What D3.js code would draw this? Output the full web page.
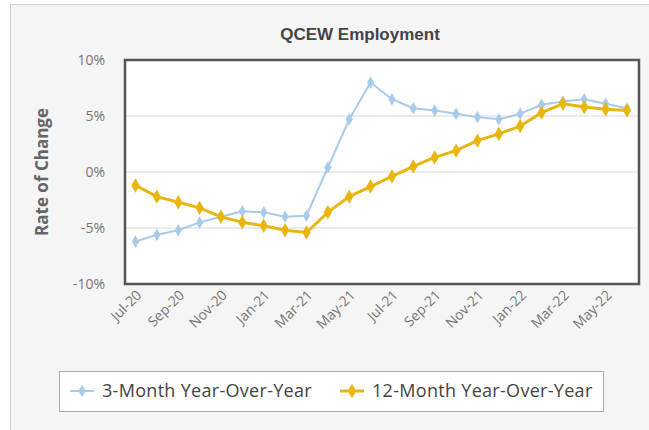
<!DOCTYPE html>
<html>
<head>
<meta charset="utf-8">
<script src="https://cdn.jsdelivr.net/npm/d3@7"></script>
<style>
  html, body { margin: 0; padding: 0; background: #fff; }
  svg { display: block; }
</style>
</head>
<body>
<svg id="chart"></svg>
<script>
'use strict';

var months = ['Jul-20', 'Aug-20', 'Sep-20', 'Oct-20', 'Nov-20', 'Dec-20', 'Jan-21', 'Feb-21',
    'Mar-21', 'Apr-21', 'May-21', 'Jun-21', 'Jul-21', 'Aug-21', 'Sep-21', 'Oct-21', 'Nov-21',
    'Dec-21', 'Jan-22', 'Feb-22', 'Mar-22', 'Apr-22', 'May-22', 'Jun-22'];
var threeMonth = [-6.2, -5.6, -5.2, -4.5, -4.0, -3.5, -3.6, -4.0, -3.9, 0.4, 4.7,
    8.0, 6.5, 5.7, 5.5, 5.2, 4.9, 4.7, 5.2, 6.0, 6.3, 6.5, 6.1, 5.7];
var twelveMonth = [-1.2, -2.2, -2.7, -3.2, -4.0, -4.5, -4.8, -5.2, -5.4, -3.6, -2.2,
    -1.3, -0.4, 0.5, 1.3, 1.9, 2.8, 3.4, 4.1, 5.3, 6.1, 5.8, 5.6, 5.5];
var yTicks = [-10, -5, 0, 5, 10];
var seriesNames = ['3-Month Year-Over-Year', '12-Month Year-Over-Year'];

function render() {
    var w = 649;
    var h = 430;
    var d3 = window.d3;

    var svg = d3.select('#chart').attr('width', w).attr('height', h);

    // outer panel
    svg.append('rect').attr('x', 10.5).attr('y', 4.5).attr('width', w).attr('height', h)
        .attr('fill', '#f5f5f5').attr('stroke', '#d0d0d0');

    var plot = { left: 125, top: 60, right: 639, bottom: 284 };

    var x = d3.scaleLinear().domain([0, months.length - 1]).range([135.5, 627]);
    var y = d3.scaleLinear().domain([-10, 10]).range([plot.bottom, plot.top]);

    svg.append('rect').attr('x', plot.left).attr('y', plot.top)
        .attr('width', plot.right - plot.left).attr('height', plot.bottom - plot.top)
        .attr('fill', '#fff');

    // gridlines
    svg.append('g').selectAll('line').data(yTicks.slice(1, -1)).enter().append('line')
        .attr('x1', plot.left).attr('x2', plot.right)
        .attr('y1', function (d) { return y(d); }).attr('y2', function (d) { return y(d); })
        .attr('stroke', '#e6e6e6').attr('stroke-width', 1.5);

    // y tick labels
    svg.append('g').selectAll('text').data(yTicks).enter().append('text')
        .attr('x', 105).attr('y', function (d) { return y(d); }).attr('dy', '0.35em')
        .attr('text-anchor', 'end').attr('fill', '#777')
        .style('font-family', '"Open Sans", sans-serif').style('font-size', '14px')
        .text(function (d) { return d + '%'; });

    // x tick labels, every second month
    svg.append('g').selectAll('text').data(months.filter(function (d, i) { return i % 2 === 0; }))
        .enter().append('text')
        .attr('transform', function (d) {
            return 'translate(' + (x(months.indexOf(d)) + 7) + ',' + 296 + ') rotate(-45)';
        })
        .attr('text-anchor', 'end').attr('fill', '#777')
        .style('font-family', '"Open Sans", sans-serif').style('font-size', '14px')
        .text(function (d) { return d; });

    var series = [
        { name: seriesNames[0], values: threeMonth, color: '#a9cbea', width: 2, size: 45 },
        { name: seriesNames[1], values: twelveMonth, color: '#e8b60f', width: 3, size: 60 }
    ];

    var line = d3.line().x(function (d, i) { return x(i); }).y(function (d) { return y(d); });
    var diamond = d3.symbol().type(d3.symbolDiamond);

    series.forEach(function (s) {
        var g = svg.append('g');
        g.append('path').attr('d', line(s.values)).attr('fill', 'none')
            .attr('stroke', s.color).attr('stroke-width', s.width);
        g.selectAll('path.pt').data(s.values).enter().append('path').attr('class', 'pt')
            .attr('d', diamond.size(s.size)())
            .attr('transform', function (d, i) { return 'translate(' + x(i) + ',' + y(d) + ')'; })
            .attr('fill', s.color);
    });

    // plot frame
    svg.append('rect').attr('x', plot.left).attr('y', plot.top)
        .attr('width', plot.right - plot.left).attr('height', plot.bottom - plot.top)
        .attr('fill', 'none').attr('stroke', '#555').attr('stroke-width', 2.5);

    // title
    svg.append('text').attr('x', 360).attr('y', 40).attr('text-anchor', 'middle')
        .attr('fill', '#444').style('font-family', '"Liberation Sans", Arial, sans-serif')
        .style('font-size', '17px').style('font-weight', 'bold').text('QCEW Employment');

    // y axis title
    svg.append('text').attr('transform', 'translate(48,' + y(0) + ') rotate(-90)')
        .attr('text-anchor', 'middle').attr('fill', '#666')
        .style('font-family', '"Open Sans", sans-serif').style('font-size', '17px')
        .style('font-weight', 'bold').text('Rate of Change');

    // legend
    var legend = svg.append('g');
    legend.append('rect').attr('x', 59.5).attr('y', 371.5).attr('width', 544).attr('height', 40)
        .attr('fill', '#fff').attr('stroke', '#aaa');
    var legendX = [70, 340];
    series.forEach(function (s, i) {
        var lg = legend.append('g').attr('transform', 'translate(' + legendX[i] + ',391)');
        lg.append('line').attr('x1', 0).attr('x2', 24).attr('stroke', s.color).attr('stroke-width', s.width);
        lg.append('path').attr('d', diamond.size(s.size)()).attr('transform', 'translate(12,0)')
            .attr('fill', s.color);
        lg.append('text').attr('x', 32).attr('dy', '0.35em').attr('fill', '#444')
            .style('font-family', '"Open Sans", sans-serif').style('font-size', '18px')
            .style('letter-spacing', '0.3px')
            .text(s.name);
    });
}

render();
</script>
</body>
</html>
